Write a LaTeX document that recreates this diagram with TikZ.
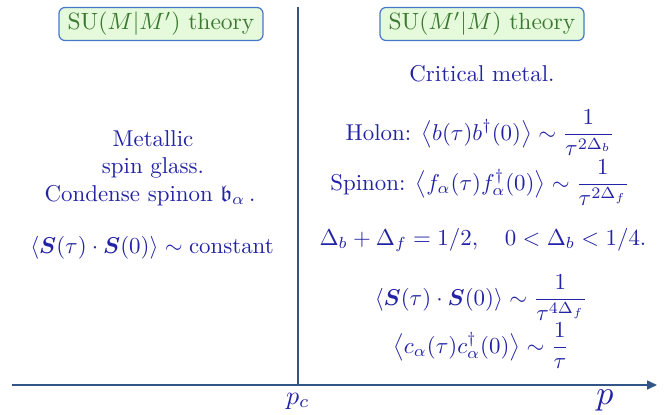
\documentclass[tikz,border=0pt]{standalone}
\usepackage{amsmath,amssymb,amsfonts,bm,graphicx}
\usetikzlibrary{arrows.meta}
\definecolor{txtblue}{RGB}{35,35,165}
\definecolor{axisblue}{RGB}{50,85,135}
\definecolor{boxborder}{RGB}{70,120,200}
\definecolor{boxfill}{RGB}{228,250,218}
\definecolor{boxtext}{RGB}{60,120,50}
\newcommand{\bigtxt}[1]{\scalebox{2.29}{#1}}
\tikzset{
  lbl/.style={text=txtblue, inner sep=0pt},
  theorybox/.style={draw=boxborder, line width=1.2pt, fill=boxfill, rounded corners=6pt,
     text=boxtext, minimum width=204pt, minimum height=33pt, inner sep=2pt},
  axisline/.style={draw=axisblue, line width=1.6pt}
}
\begin{document}
\begin{tikzpicture}[x=1pt,y=-1pt]
\useasboundingbox (0,0) rectangle (670,415);
% axes
\coordinate (top) at (298,7);
\coordinate (origin) at (12,385);
\coordinate (cross) at (298,385);
\coordinate (end) at (657,385);
\draw[axisline] (top) -- (cross);
\draw[axisline, -{Triangle[length=10pt,width=9pt]}] (origin) -- (end);
\node[lbl] (pc) at (298,401) {\scalebox{2.6}{$p_c$}};
\node[lbl] (p) at (605,400) {\scalebox{3.4}{$p$}};
% theory boxes
\node[theorybox] (lbox) at (161,24) {\scalebox{2.35}{SU$(M|M')$ theory}};
\node[theorybox] (rbox) at (482,24) {\scalebox{2.35}{SU$(M'|M)$ theory}};
% left side
\node[lbl, anchor=base] (metal) at (153,146) {\bigtxt{Metallic}};
\node[lbl, anchor=base] (glass) at (153,173) {\bigtxt{spin glass.}};
\node[lbl, anchor=base] (cond) at (150,201) {\bigtxt{Condense spinon $\mathfrak{b}_\alpha\,$.}};
\node[lbl] (lcorr) at (152,248) {\bigtxt{$\langle \bm{S}(\tau)\cdot\bm{S}(0)\rangle \sim \text{constant}$}};
% right side
\node[lbl] (crit) at (482,74) {\bigtxt{Critical metal.}};
\node[lbl] (holon) at (480,133) {\bigtxt{Holon: $\displaystyle \bigl\langle b(\tau) b^\dagger(0)\bigr\rangle \sim \frac{1}{\tau^{2\Delta_b}}$}};
\node[lbl] (spinon) at (480,183) {\bigtxt{Spinon: $\displaystyle \bigl\langle f_\alpha(\tau) f_\alpha^\dagger(0)\bigr\rangle \sim \frac{1}{\tau^{2\Delta_f}}$}};
\node[lbl] (delta) at (483,240) {\bigtxt{$\Delta_b+\Delta_f=1/2,\quad 0<\Delta_b<1/4.$}};
\node[lbl] (rcorr) at (481,298) {\bigtxt{$\displaystyle \langle \bm{S}(\tau)\cdot\bm{S}(0)\rangle \sim \frac{1}{\tau^{4\Delta_f}}$}};
\node[lbl] (ccorr) at (481,346) {\bigtxt{$\displaystyle \bigl\langle c_\alpha(\tau) c_\alpha^\dagger(0)\bigr\rangle \sim \frac{1}{\tau}$}};
\end{tikzpicture}
\end{document}
